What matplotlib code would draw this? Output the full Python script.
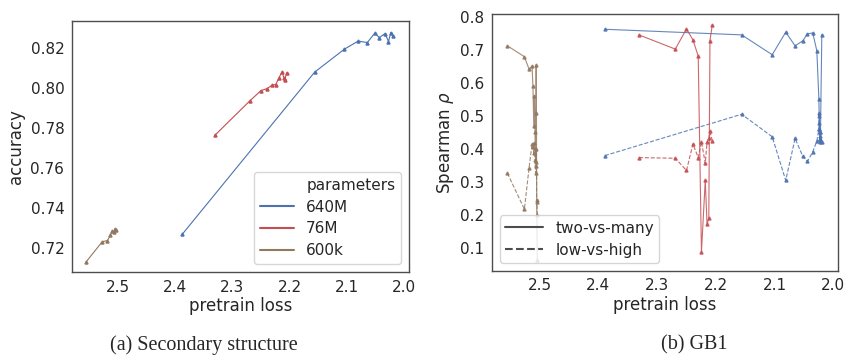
import matplotlib.pyplot as plt
import seaborn as sns
from matplotlib.lines import Line2D

sns.set_style("white")
plt.rcParams["font.family"] = ["DejaVu Sans"]

# model colours (seaborn deep)
colors = {"640M": "#4C72B0", "76M": "#C44E52", "600k": "#937860"}
sizes = ["640M", "76M", "600k"]

# ---- (a) secondary structure: pretrain loss vs accuracy ----
ss_loss = {
    "640M": [2.387, 2.156, 2.104, 2.080, 2.064, 2.051, 2.043, 2.033, 2.027, 2.023, 2.019],
    "76M": [2.330, 2.269, 2.250, 2.239, 2.230, 2.224, 2.218, 2.213, 2.210, 2.208, 2.205],
    "600k": [2.555, 2.527, 2.518, 2.513, 2.510, 2.507, 2.505, 2.503],
}
ss_acc = {
    "640M": [0.727, 0.808, 0.8195, 0.8235, 0.8228, 0.8275, 0.8253, 0.8273, 0.8233, 0.8278, 0.826],
    "76M": [0.7765, 0.7937, 0.7987, 0.7998, 0.8015, 0.8018, 0.8053, 0.8082, 0.8053, 0.8043, 0.8077],
    "600k": [0.7132, 0.7232, 0.7237, 0.7265, 0.7285, 0.7278, 0.7295, 0.729],
}

# ---- (b) GB1: pretrain loss vs Spearman rho ----
gb1_loss = {
    "640M": [2.389, 2.156, 2.104, 2.081, 2.065, 2.052, 2.044, 2.035, 2.028,
             2.0245, 2.0240, 2.0235, 2.0230, 2.0225, 2.0220, 2.0195],
    "76M": [2.331, 2.269, 2.250, 2.239, 2.230, 2.2245, 2.218, 2.215, 2.212, 2.210, 2.206],
    "600k": [2.555, 2.526, 2.518, 2.513, 2.5115, 2.510, 2.509, 2.508, 2.507,
             2.506, 2.5055, 2.505, 2.504],
}
two_vs_many = {
    "640M": [0.762, 0.745, 0.685, 0.753, 0.712, 0.727, 0.748, 0.751, 0.697,
             0.55, 0.50, 0.46, 0.44, 0.43, 0.42, 0.746],
    "76M": [0.745, 0.702, 0.763, 0.730, 0.681, 0.088, 0.306, 0.172, 0.19, 0.728, 0.775],
    "600k": [0.712, 0.679, 0.641, 0.651, 0.59, 0.47, 0.56, 0.45, 0.36,
             0.654, 0.51, 0.24, 0.065],
}
low_vs_high = {
    "640M": [0.38, 0.505, 0.437, 0.305, 0.432, 0.378, 0.363, 0.391, 0.424,
             0.46, 0.51, 0.48, 0.45, 0.43, 0.45, 0.42],
    "76M": [0.374, 0.372, 0.335, 0.415, 0.374, 0.422, 0.357, 0.42, 0.433, 0.453, 0.425],
    "600k": [0.327, 0.218, 0.344, 0.415, 0.407, 0.387, 0.418, 0.367, 0.327,
             0.40, 0.35, 0.246, 0.20],
}

loss_ticks = [2.5, 2.4, 2.3, 2.2, 2.1, 2.0]

fig = plt.figure(figsize=(8.47, 3.62), dpi=100)
ax1 = fig.add_axes([0.085, 0.2486, 0.398, 0.693])
ax2 = fig.add_axes([0.581, 0.2522, 0.408, 0.709])

for s in sizes:
    ax1.plot(ss_loss[s], ss_acc[s], color=colors[s], lw=0.8, marker="^",
             markersize=2.2, label=s)
ax1.set_xlim(2.58, 1.991)
ax1.set_ylim(0.708, 0.8335)
ax1.set_xticks(loss_ticks)
ax1.set_yticks([0.72, 0.74, 0.76, 0.78, 0.80, 0.82])
ax1.set_xlabel("pretrain loss", fontsize=12, labelpad=2)
ax1.set_ylabel("accuracy", fontsize=12, labelpad=4)

handles = [Line2D([], [], linestyle="none", label="parameters")]
handles += [Line2D([], [], color=colors[s], lw=1.5, label=s) for s in sizes]
ax1.legend(handles=handles, loc="lower right", fontsize=11,
           handlelength=2.2, borderpad=0.4, labelspacing=0.45)

for s in sizes:
    ax2.plot(gb1_loss[s], two_vs_many[s], color=colors[s], lw=0.8, alpha=0.85,
             marker="^", markersize=2.2)
    ax2.plot(gb1_loss[s], low_vs_high[s], color=colors[s], lw=0.8, alpha=0.85,
             ls="--", marker="^", markersize=2.2)
ax2.set_xlim(2.581, 1.9925)
ax2.set_ylim(0.032, 0.808)
ax2.set_xticks(loss_ticks)
ax2.set_yticks([0.1, 0.2, 0.3, 0.4, 0.5, 0.6, 0.7, 0.8])
ax2.set_xlabel("pretrain loss", fontsize=12, labelpad=2)
ax2.set_ylabel(r"Spearman $\rho$", fontsize=12, labelpad=3)

style_handles = [Line2D([], [], color="0.3", lw=1.5, label="two-vs-many"),
                 Line2D([], [], color="0.3", lw=1.5, ls="--", label="low-vs-high")]
ax2.legend(handles=style_handles, loc="lower left", fontsize=11,
           handlelength=2.5, borderpad=0.35, labelspacing=0.45)

for ax in (ax1, ax2):
    ax.tick_params(labelsize=11, pad=2)
    for sp in ax.spines.values():
        sp.set_color("0.3")
        sp.set_linewidth(1.0)

cap_font = {"family": "Liberation Serif", "size": 14.5}
fig.text(0.241, 0.047, "(a) Secondary structure", ha="center", va="center", fontdict=cap_font)
fig.text(0.82, 0.047, "(b) GB1", ha="center", va="center", fontdict=cap_font)

fig.savefig("out.png", dpi=100)
